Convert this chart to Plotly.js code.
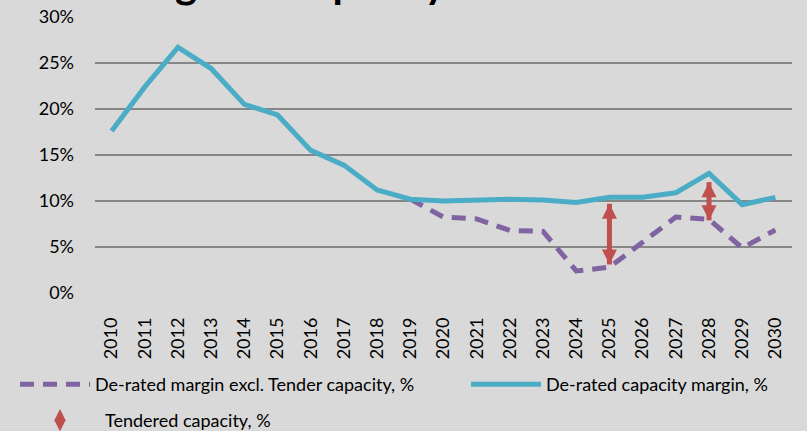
<!DOCTYPE html>
<html>
<head>
<meta charset="utf-8">
<script src="https://cdn.plot.ly/plotly-3.0.1.min.js"></script>
<style>html,body{margin:0;padding:0;background:#D9D9D9;}#chart{width:807px;height:431px;}</style>
</head>
<body>
<div id="chart"></div>
<script>
// ---- data ----
var years = ['2010','2011','2012','2013','2014','2015','2016','2017','2018','2019','2020',
             '2021','2022','2023','2024','2025','2026','2027','2028','2029','2030'];
var deratedMargin = [0.176,0.224,0.267,0.244,0.205,0.1935,0.155,0.139,0.112,0.102,0.100,
                     0.101,0.102,0.101,0.0985,0.104,0.104,0.109,0.130,0.096,0.104];
var marginExclTender = [null,null,null,null,null,null,null,null,null,0.102,0.0825,
                        0.0805,0.068,0.067,0.024,0.028,0.055,0.0825,0.080,0.049,0.0685];
var tenderYears = ['2025','2025',null,'2028','2028'];
var tenderEnds  = [0.097,0.031,null,0.1205,0.079];
var tenderHeads = ['arrow-up','arrow-down','arrow-up','arrow-up','arrow-down'];

var titleText = 'Targeted capacity scenario';
var nameExcl = 'De-rated margin excl. Tender capacity, %';
var nameMargin = 'De-rated capacity margin, %';
var nameTender = 'Tendered capacity, %';

var FONT = 'Lato, "Open Sans", sans-serif';
var RED = '#C0504D', BLUE = '#4BACC6', PURPLE = '#8064A2';

var traces = [
  {x: years, y: marginExclTender, name: nameExcl, type: 'scatter', mode: 'lines',
   line: {color: PURPLE, width: 5, dash: '14px,9px'}, legend: 'legend', hoverinfo: 'skip'},
  {x: years, y: deratedMargin, name: nameMargin, type: 'scatter', mode: 'lines',
   line: {color: BLUE, width: 5}, legend: 'legend2', hoverinfo: 'skip'},
  {x: tenderYears, y: tenderEnds, name: nameTender, type: 'scatter', mode: 'lines+markers',
   line: {color: RED, width: 5}, connectgaps: false,
   marker: {symbol: tenderHeads, size: 15, color: RED}, showlegend: false, hoverinfo: 'skip'},
  // legend key for the tendered-capacity arrows (no points of its own)
  {x: [null], y: [null], name: nameTender, type: 'scatter', mode: 'markers',
   marker: {symbol: 'diamond-tall', size: 19, color: RED}, legend: 'legend3', hoverinfo: 'skip'}
];

var legendBase = {orientation: 'h', xanchor: 'left', yanchor: 'top', itemwidth: 70,
  bgcolor: 'rgba(0,0,0,0)', font: {family: FONT, size: 18, color: '#000'}};

var layout = {
  width: 807, height: 431,
  margin: {l: 95, r: 15, t: 17, b: 138, pad: 0, autoexpand: false},
  paper_bgcolor: '#D9D9D9', plot_bgcolor: '#D9D9D9',
  font: {family: FONT, size: 18, color: '#000'},
  title: {text: titleText, font: {family: FONT, size: 42, weight: 'bold', color: '#000'},
          x: 0.452, xanchor: 'center', xref: 'container', y: 0.9954, yanchor: 'bottom', yref: 'container',
          pad: {b: 4}},
  showlegend: true,
  xaxis: {type: 'category', range: [-0.5, 20.5], tickangle: -90, showgrid: false, showline: false,
          zeroline: false, ticks: '', ticklabelstandoff: 20, fixedrange: true, automargin: false,
          tickfont: {family: FONT, size: 18, color: '#000'}},
  yaxis: {range: [0, 0.3], tick0: 0, dtick: 0.05, tickformat: '.0%', showgrid: true,
          gridcolor: '#878787', gridwidth: 1.7, zeroline: false, showline: false, ticks: '',
          ticklabelstandoff: 20, fixedrange: true, automargin: false,
          tickfont: {family: FONT, size: 18, color: '#000'}},
  legend: Object.assign({}, legendBase, {x: -0.1148, y: -0.2645}),
  legend2: Object.assign({}, legendBase, {x: 0.5323, y: -0.2645}),
  legend3: Object.assign({}, legendBase, {x: -0.1148, y: -0.395, itemwidth: 80})
};

Plotly.newPlot('chart', traces, layout, {displayModeBar: false, staticPlot: true});
</script>
</body>
</html>
